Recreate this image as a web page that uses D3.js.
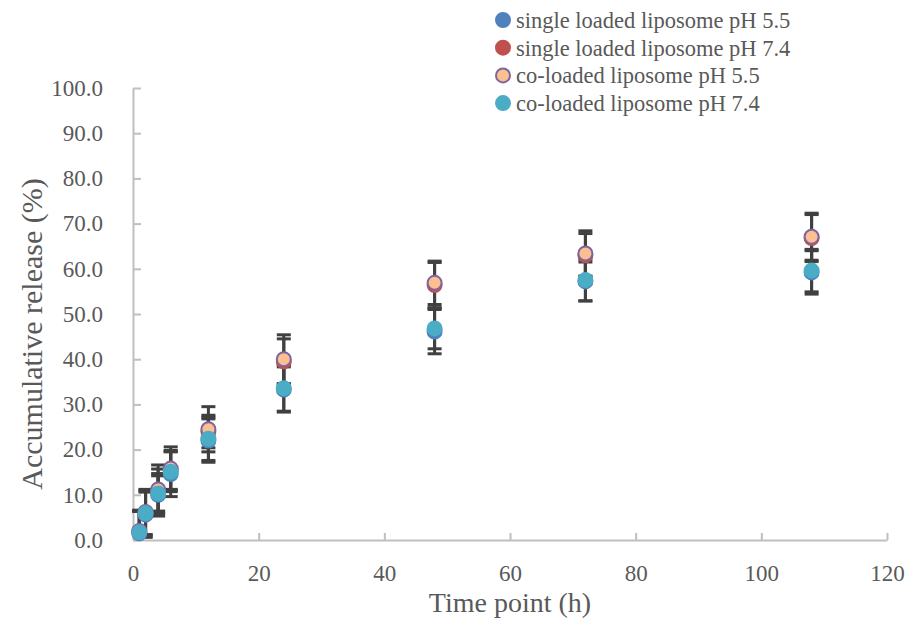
<!DOCTYPE html>
<html>
<head>
<meta charset="utf-8">
<script src="https://cdn.jsdelivr.net/npm/d3@7"></script>
<style>
  body { margin: 0; background: #fff; }
  svg text { font-family: "Liberation Serif", "Times New Roman", serif; fill: #595959; }
</style>
</head>
<body>
<div id="chart"></div>
<script>
// time points (h)
var times = [1, 2, 4, 6, 12, 24, 48, 72, 108];

// accumulative release (%) and error (SD) per series
var singlePH55 = [1.5, 5.6, 10.0, 14.6, 22.0, 33.3, 46.1, 57.2, 59.2];
var singlePH55Err = [4.8, 5.0, 4.7, 5.0, 4.8, 5.0, 4.9, 4.3, 4.8];
var singlePH74 = [1.9, 6.0, 10.9, 15.5, 24.0, 39.5, 56.4, 63.0, 66.8];
var singlePH74Err = [4.5, 4.8, 4.8, 4.3, 3.6, 5.0, 5.0, 4.8, 5.2];
var coPH55 = [2.0, 6.2, 11.2, 15.8, 24.5, 40.0, 56.9, 63.4, 67.1];
var coPH55Err = [4.6, 5.0, 5.4, 4.8, 5.0, 5.4, 4.8, 5.0, 5.2];
var coPH74 = [1.7, 5.9, 10.3, 15.1, 22.4, 33.6, 46.8, 57.5, 59.6];
var coPH74Err = [4.8, 5.2, 3.9, 4.4, 4.8, 5.1, 4.5, 4.6, 4.7];

var seriesNames = ["single loaded liposome pH 5.5", "single loaded liposome pH 7.4",
                   "co-loaded liposome pH 5.5", "co-loaded liposome pH 7.4"];
var xTicks = [0, 20, 40, 60, 80, 100, 120];
var yTicks = [0, 10, 20, 30, 40, 50, 60, 70, 80, 90, 100];

var series = [
  { name: seriesNames[0], values: singlePH55, err: singlePH55Err, fill: "#4F81BD", stroke: "#4F81BD" },
  { name: seriesNames[1], values: singlePH74, err: singlePH74Err, fill: "#C0504D", stroke: "#C0504D" },
  { name: seriesNames[2], values: coPH55, err: coPH55Err, fill: "#FAC08F", stroke: "#8064A2" },
  { name: seriesNames[3], values: coPH74, err: coPH74Err, fill: "#4BACC6", stroke: "#4BACC6" }
];

var width = 909, height = 621;
var plot = { left: 133, right: 887, top: 88, bottom: 540 };
var serif = "'Liberation Serif', 'Times New Roman', serif";

var svg = d3.select("#chart").append("svg")
  .attr("width", width)
  .attr("height", height);

var x = d3.scaleLinear().domain([0, 120]).range([plot.left, plot.right]);
var y = d3.scaleLinear().domain([0, 100]).range([plot.bottom, plot.top]);

// axes
var xAxis = svg.append("g")
  .attr("transform", `translate(0,${plot.bottom})`)
  .call(d3.axisBottom(x).tickValues(xTicks).tickSizeInner(-7).tickSizeOuter(0).tickPadding(25));

var yAxis = svg.append("g")
  .attr("transform", `translate(${plot.left},0)`)
  .call(d3.axisLeft(y).tickValues(yTicks).tickFormat(d3.format(".1f"))
    .tickSizeInner(-8).tickSizeOuter(0).tickPadding(30));

[xAxis, yAxis].forEach(function(g) {
  g.attr("font-family", serif).attr("font-size", 23);
  g.select(".domain").attr("stroke", "#BFBFBF").attr("stroke-width", 2);
  g.selectAll(".tick line").attr("stroke", "#BFBFBF").attr("stroke-width", 2);
  g.selectAll(".tick text").attr("fill", "#595959");
});

// axis titles
svg.append("text")
  .attr("x", (plot.left + plot.right) / 2)
  .attr("y", 612)
  .attr("text-anchor", "middle")
  .attr("font-size", "28px")
  .text("Time point (h)");

svg.append("text")
  .attr("transform", `translate(42,${(plot.top + plot.bottom) / 2 + 20}) rotate(-90)`)
  .attr("text-anchor", "middle")
  .attr("font-size", "30px")
  .text("Accumulative release (%)");

// clip for plot area
svg.append("clipPath").attr("id", "plotclip")
  .append("rect")
  .attr("x", plot.left - 20).attr("y", plot.top)
  .attr("width", plot.right - plot.left + 40).attr("height", plot.bottom - plot.top);

var capW = 7;
var errG = svg.append("g").attr("clip-path", "url(#plotclip)");

// error bars first, markers on top
series.forEach(function(s) {
  var pts = times.map(function(t, i) { return { t: t, v: s.values[i], e: s.err[i] }; });
  var g = errG.append("g").attr("stroke", "#404040").attr("stroke-width", 3);
  g.selectAll("line.v").data(pts).enter().append("line")
    .attr("x1", d => x(d.t)).attr("x2", d => x(d.t))
    .attr("y1", d => y(d.v - d.e)).attr("y2", d => y(d.v + d.e));
  g.selectAll("line.top").data(pts).enter().append("line")
    .attr("x1", d => x(d.t) - capW).attr("x2", d => x(d.t) + capW)
    .attr("y1", d => y(d.v + d.e)).attr("y2", d => y(d.v + d.e));
  g.selectAll("line.bot").data(pts).enter().append("line")
    .attr("x1", d => x(d.t) - capW).attr("x2", d => x(d.t) + capW)
    .attr("y1", d => y(d.v - d.e)).attr("y2", d => y(d.v - d.e));
});

series.forEach(function(s) {
  svg.append("g").selectAll("circle")
    .data(times.map(function(t, i) { return { t: t, v: s.values[i] }; }))
    .enter().append("circle")
    .attr("cx", d => x(d.t))
    .attr("cy", d => y(d.v))
    .attr("r", 7)
    .attr("fill", s.fill)
    .attr("stroke", s.stroke)
    .attr("stroke-width", 2);
});

// legend
var legend = svg.append("g").attr("transform", "translate(503,20)");
series.forEach(function(s, i) {
  var row = legend.append("g").attr("transform", `translate(0,${i * 27.7})`);
  row.append("circle").attr("r", 7).attr("fill", s.fill)
    .attr("stroke", s.stroke).attr("stroke-width", 2);
  row.append("text").attr("x", 13).attr("dy", "0.35em")
    .attr("font-size", "22.5px").text(s.name);
});
</script>
</body>
</html>
